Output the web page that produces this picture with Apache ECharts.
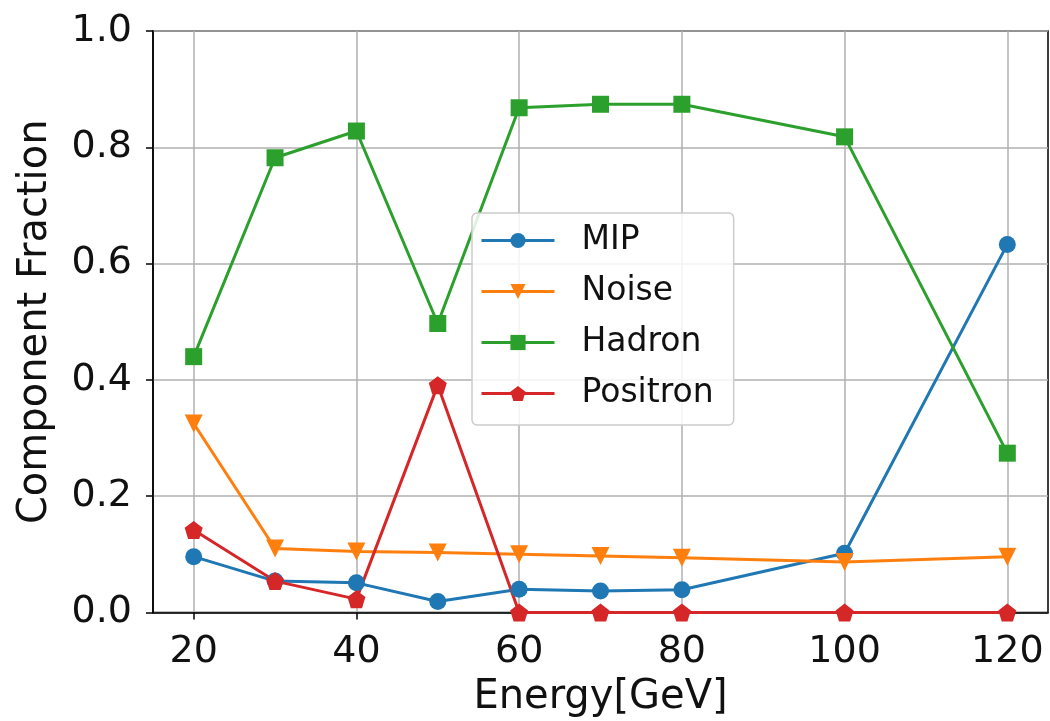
<!DOCTYPE html>
<html>
<head>
<meta charset="utf-8">
<script src="https://cdn.jsdelivr.net/npm/echarts@6/dist/echarts.min.js"></script>
<style>
html,body{margin:0;padding:0;background:#fff;}
#chart{width:1050px;height:721px;}
</style>
</head>
<body>
<div id="chart"></div>
<script>
const energies = [20, 30, 40, 50, 60, 70, 80, 100, 120];
const mip      = [0.096, 0.054, 0.051, 0.019, 0.040, 0.037, 0.039, 0.102, 0.633];
const noise    = [0.325, 0.110, 0.105, 0.103, 0.100, 0.097, 0.094, 0.087, 0.096];
const hadron   = [0.440, 0.782, 0.828, 0.497, 0.868, 0.874, 0.874, 0.818, 0.274];
const positron = [0.142, 0.054, 0.023, 0.391, 0.0, 0.0, 0.0, 0.0, 0.0];
const xTicks = [20, 40, 60, 80, 100, 120];
const yTicks = [0.0, 0.2, 0.4, 0.6, 0.8, 1.0];

const FONT = 'DejaVu Sans';
const TXT = '#111';
const pentagon = 'path://M0,-1 L0.951,-0.309 L0.588,0.809 L-0.588,0.809 L-0.951,-0.309 Z';

function pairs(vals){ return energies.map((e,i)=>[e, vals[i]]); }
function mk(name, vals, color, symbol, size, rot){
  return {
    name, type:'line', data: pairs(vals),
    symbol, symbolSize: size, symbolRotate: rot || 0,
    lineStyle:{color, width:3},
    itemStyle:{color},
    showAllSymbol:true,
    clip:true,
    animation:false
  };
}

const chart = echarts.init(document.getElementById('chart'));
chart.setOption({
  backgroundColor:'#fff',
  animation:false,
  grid:{left:153, right:2, top:31, bottom:108.5, outerBoundsMode:'none', containLabel:false,
        show:true, borderColor:'#000', borderWidth:1.5, backgroundColor:'transparent'},
  xAxis:{
    type:'value', min:15, max:125,
    name:'Energy[GeV]', nameLocation:'middle', nameGap:65,
    nameTextStyle:{fontFamily:FONT, fontSize:40, color:TXT},
    axisLine:{show:true, lineStyle:{color:'#000', width:1.5}},
    axisTick:{show:true, inside:false, length:7, lineStyle:{color:'#000', width:1.5}, customValues:xTicks},
    axisLabel:{fontFamily:FONT, fontSize:38, color:TXT, margin:21, customValues:xTicks},
    splitLine:{show:true, lineStyle:{color:'#b0b0b0', width:1.5}, customValues:xTicks}
  },
  yAxis:{
    type:'value', min:0, max:1, interval:0.2,
    name:'Component Fraction', nameLocation:'middle', nameGap:97,
    nameTextStyle:{fontFamily:FONT, fontSize:40, color:TXT},
    axisLine:{show:true, lineStyle:{color:'#000', width:1.5}},
    axisTick:{show:true, inside:false, length:7, lineStyle:{color:'#000', width:1.5}},
    axisLabel:{fontFamily:FONT, fontSize:38, color:TXT, margin:21, formatter:v=>v.toFixed(1)},
    splitLine:{show:true, lineStyle:{color:'#b0b0b0', width:1.5}}
  },
  legend:{
    left:472, top:213, orient:'vertical',
    backgroundColor:'rgba(255,255,255,0.85)', borderColor:'#cccccc', borderWidth:1.5, borderRadius:5,
    padding:[11, 20, 15, 8],
    itemWidth:73, itemHeight:19, itemGap:18,
    lineStyle:{width:3},
    textStyle:{fontFamily:FONT, fontSize:33, color:TXT, padding:[0,0,0,22]},
    data:['MIP','Noise','Hadron','Positron']
  },
  series:[
    mk('MIP', mip, '#1f77b4', 'circle', 17),
    mk('Noise', noise, '#ff7f0e', 'triangle', 18, 180),
    mk('Hadron', hadron, '#2ca02c', 'rect', 17),
    mk('Positron', positron, '#d62728', pentagon, 18)
  ]
});
</script>
</body>
</html>
